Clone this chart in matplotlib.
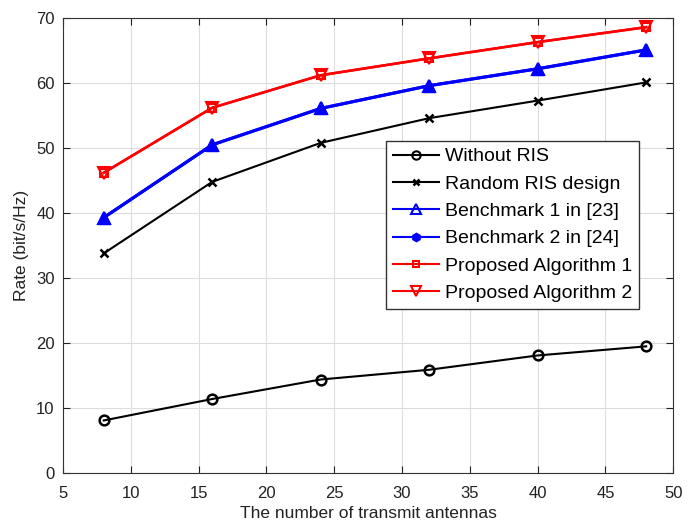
import numpy as np
import matplotlib
matplotlib.use('Agg')
import matplotlib.pyplot as plt
from matplotlib.lines import Line2D

plt.rcParams['font.family'] = ['Liberation Sans', 'DejaVu Sans']

antennas = [8, 16, 24, 32, 40, 48]
without_ris = [8.1, 11.4, 14.4, 15.9, 18.1, 19.5]
random_ris = [33.8, 44.8, 50.8, 54.6, 57.3, 60.1]
bench1 = [39.3, 50.5, 56.1, 59.6, 62.2, 65.1]
bench2 = [39.3, 50.5, 56.1, 59.6, 62.2, 65.1]
prop1 = [46.2, 56.2, 61.2, 63.8, 66.3, 68.6]
prop2 = [46.2, 56.2, 61.2, 63.8, 66.3, 68.6]

fig = plt.figure(figsize=(6.88, 5.31), dpi=100)
ax = fig.add_axes([0.0916, 0.109, 0.887, 0.857])

ax.plot(antennas, without_ris, color='black', lw=1.5, marker='o', ms=7, mfc='none', mew=1.8)
ax.plot(antennas, random_ris, color='black', lw=1.5, marker='x', ms=6, mew=1.8)
ax.plot(antennas, bench1, color='blue', lw=2.2, marker='^', ms=9, mfc='none', mew=1.5)
ax.plot(antennas, bench2, color='blue', lw=2.2, marker='^', ms=8, mfc='blue', mew=1.0)
ax.plot(antennas, prop1, color='red', lw=1.8, marker='s', ms=6, mfc='none', mew=1.5)
ax.plot(antennas, prop2, color='red', lw=1.8, marker='v', ms=9, mfc='none', mew=1.5)

handles = [
    Line2D([], [], color='black', lw=1.5, marker='o', ms=6, mfc='none', mew=1.5, label='Without RIS'),
    Line2D([], [], color='black', lw=1.5, marker='x', ms=5, mew=1.8, label='Random RIS design'),
    Line2D([], [], color='blue', lw=1.5, marker='^', ms=7, mfc='none', mew=1.5, label='Benchmark 1 in [23]'),
    Line2D([], [], color='blue', lw=1.5, marker='h', ms=6, mfc='blue', label='Benchmark 2 in [24]'),
    Line2D([], [], color='red', lw=1.5, marker='s', ms=5, mfc='none', mew=1.5, label='Proposed Algorithm 1'),
    Line2D([], [], color='red', lw=1.5, marker='v', ms=7, mfc='none', mew=1.5, label='Proposed Algorithm 2'),
]
leg = ax.legend(handles=handles, loc='upper right', bbox_to_anchor=(0.944, 0.73),
                fontsize=14, fancybox=False, edgecolor='#333333', framealpha=1,
                handlelength=2.4, borderpad=0.35, labelspacing=0.5, handletextpad=0.3,
                borderaxespad=0)
leg.get_frame().set_linewidth(1.0)

ax.set_xlim(5, 50)
ax.set_ylim(0, 70)
ax.set_xticks(np.arange(5, 51, 5))
ax.set_yticks(np.arange(0, 71, 10))
ax.grid(True, color='#dddddd', lw=0.8)
ax.set_axisbelow(True)
ax.tick_params(direction='in', top=True, right=True, labelsize=12, length=5, colors='#222222')
ax.tick_params(axis='x', pad=9)
ax.tick_params(axis='y', pad=6)
for s in ax.spines.values():
    s.set_color('#333333')
    s.set_linewidth(0.8)
ax.set_xlabel('The number of transmit antennas', fontsize=12.5, color='#222222', labelpad=4)
ax.set_ylabel('Rate (bit/s/Hz)', fontsize=12.5, color='#222222', labelpad=5)

fig.savefig('out.png', dpi=100)
